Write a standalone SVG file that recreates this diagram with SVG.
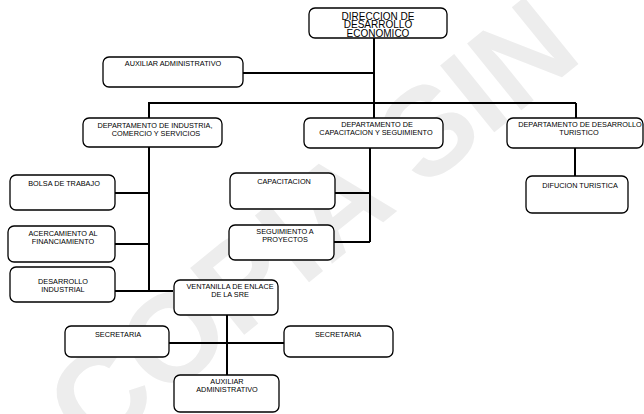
<svg xmlns="http://www.w3.org/2000/svg" width="644" height="414" viewBox="0 0 644 414">
<style>
.box{fill:#fff;stroke:#000;stroke-width:1.3}
.t{font-family:"Liberation Sans",Arial,sans-serif;font-size:7.3px;fill:#000;text-anchor:middle}
.big{font-family:"Liberation Sans",Arial,sans-serif;font-size:10px;fill:#000;text-anchor:middle}
.c{fill:none;stroke:#000;stroke-width:2}
.wm{font-family:"Liberation Sans",Arial,sans-serif;font-size:125px;font-weight:bold;fill:#ededed}
</style>
<rect width="644" height="414" fill="#fff"/>
<text class="wm" transform="translate(92,458) rotate(-39)">COPIA SIN</text>
<g id="connectors">
<path class="c" d="M374 38V103M243 73H374M148 103H576M149 103V118M374 103V118M576 103V118"/>
<path class="c" d="M149 147V291M115 193H149M115 244H149M115 291H173"/>
<path class="c" d="M370 148V242M335 193H370M334 242H370"/>
<path class="c" d="M575 148V176"/>
<path class="c" d="M227 315V375M169 343H284"/>
</g>
<g id="n-direccion"><rect class="box" x="309" y="8" width="138" height="30" rx="6"/><text class="big" x="378" y="20">DIRECCION DE</text><text class="big" x="378" y="28">DESARROLLO</text><text class="big" x="378" y="36.5">ECONOMICO</text></g>
<g id="n-aux1"><rect class="box" x="103" y="57" width="140" height="30" rx="6"/><text class="t" x="173" y="66">AUXILIAR ADMINISTRATIVO</text></g>
<g id="n-dep-ind"><rect class="box" x="83" y="118" width="139" height="29" rx="6"/><text class="t" x="155" y="128">DEPARTAMENTO DE INDUSTRIA,</text><text class="t" x="156" y="136">COMERCIO Y SERVICIOS</text></g>
<g id="n-dep-cap"><rect class="box" x="304" y="118" width="139" height="30" rx="6"/><text class="t" x="377" y="127">DEPARTAMENTO DE</text><text class="t" x="376" y="135">CAPACITACION Y SEGUIMIENTO</text></g>
<g id="n-dep-tur"><rect class="box" x="507" y="118" width="136" height="30" rx="6"/><text class="t" x="580" y="127">DEPARTAMENTO DE DESARROLLO</text><text class="t" x="579" y="135">TURISTICO</text></g>
<g id="n-bolsa"><rect class="box" x="10" y="175" width="105" height="35" rx="6"/><text class="t" x="64" y="186">BOLSA DE TRABAJO</text></g>
<g id="n-acerc"><rect class="box" x="8" y="226" width="107" height="36" rx="6"/><text class="t" x="63" y="236">ACERCAMIENTO AL</text><text class="t" x="63" y="244">FINANCIAMIENTO</text></g>
<g id="n-desind"><rect class="box" x="10" y="267" width="105" height="35" rx="6"/><text class="t" x="63" y="284">DESARROLLO</text><text class="t" x="63" y="292">INDUSTRIAL</text></g>
<g id="n-capac"><rect class="box" x="230" y="173" width="105" height="36" rx="6"/><text class="t" x="284" y="184">CAPACITACION</text></g>
<g id="n-segui"><rect class="box" x="229" y="225" width="105" height="35" rx="6"/><text class="t" x="285" y="234">SEGUIMIENTO A</text><text class="t" x="285" y="242">PROYECTOS</text></g>
<g id="n-difusion"><rect class="box" x="526" y="176" width="102" height="37" rx="6"/><text class="t" x="580" y="188">DIFUCION TURISTICA</text></g>
<g id="n-ventanilla"><rect class="box" x="174" y="280" width="104" height="35" rx="6"/><text class="t" x="230" y="289">VENTANILLA DE ENLACE</text><text class="t" x="230" y="297">DE LA SRE</text></g>
<g id="n-sec1"><rect class="box" x="65" y="326" width="104" height="31" rx="6"/><text class="t" x="118" y="337">SECRETARIA</text></g>
<g id="n-sec2"><rect class="box" x="284" y="326" width="109" height="31" rx="6"/><text class="t" x="338" y="337">SECRETARIA</text></g>
<g id="n-aux2"><rect class="box" x="174" y="375" width="105" height="37" rx="6"/><text class="t" x="227" y="384">AUXILIAR</text><text class="t" x="227" y="392">ADMINISTRATIVO</text></g>
</svg>
